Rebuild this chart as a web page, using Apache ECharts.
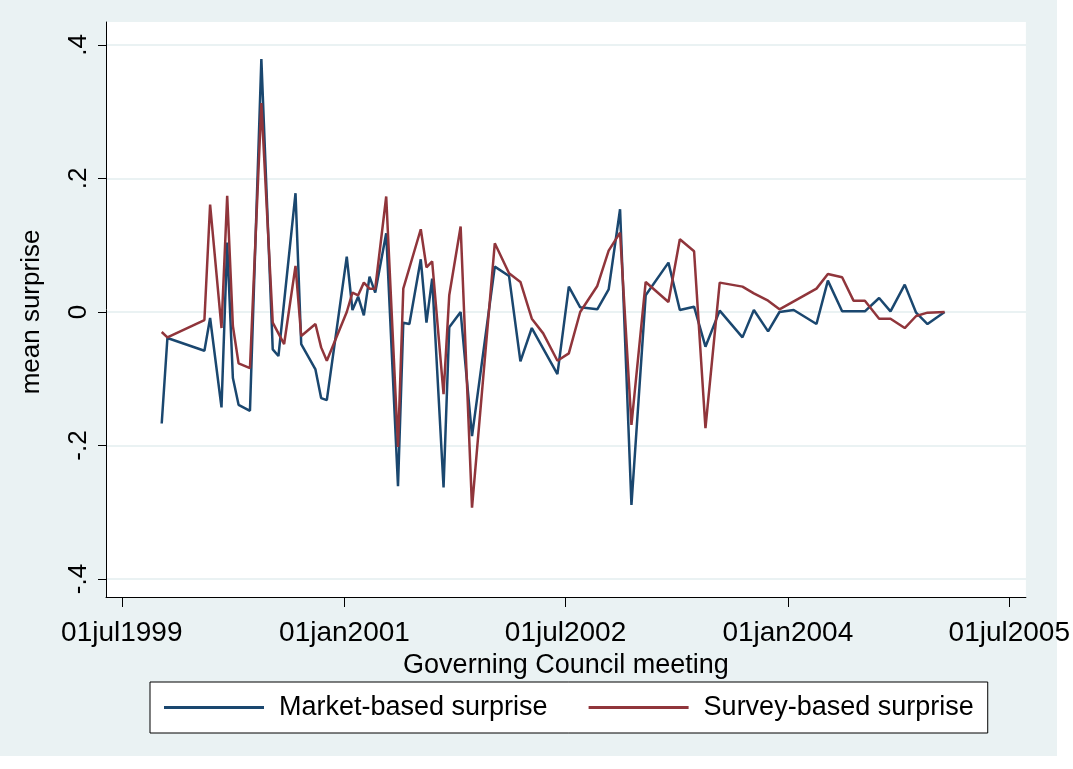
<!DOCTYPE html>
<html>
<head>
<meta charset="utf-8">
<script src="https://cdn.jsdelivr.net/npm/echarts@6/dist/echarts.min.js"></script>
<style>
html, body { margin: 0; padding: 0; background: #fff; }
#main { width: 1073px; height: 769px; }
</style>
</head>
<body>
<div id="main"></div>
<script>
// meeting dates and mean surprises
const marketDates = ['1999-10-07','1999-10-21','2000-01-20','2000-02-03','2000-03-02','2000-03-16','2000-03-30','2000-04-13','2000-05-11','2000-06-08','2000-07-06','2000-07-20','2000-08-31','2000-09-14','2000-10-19','2000-11-02','2000-11-16',
	'2001-01-04','2001-01-18','2001-02-01','2001-02-15','2001-03-01','2001-03-15','2001-04-11','2001-05-10','2001-05-23','2001-06-07','2001-07-05','2001-07-19','2001-08-02','2001-08-30','2001-09-13','2001-10-11','2001-11-08',
	'2002-01-03','2002-02-07','2002-03-07','2002-04-04','2002-06-06','2002-07-04','2002-08-01','2002-09-12','2002-10-10','2002-11-07','2002-12-05',
	'2003-01-09','2003-03-06','2003-04-03','2003-05-08','2003-06-05','2003-07-10','2003-09-04','2003-10-02','2003-11-06','2003-12-04',
	'2004-01-08','2004-03-04','2004-04-01','2004-05-06','2004-07-01','2004-08-05','2004-09-02','2004-10-07','2004-11-04','2004-12-02','2005-01-13'];
const marketValues = [-0.167,-0.039,-0.058,-0.009,-0.143,0.104,-0.099,-0.139,-0.148,0.379,-0.056,-0.066,0.178,-0.048,-0.086,-0.129,-0.132,
	0.083,0.003,0.023,-0.005,0.053,0.029,0.118,-0.261,-0.016,-0.018,0.079,-0.016,0.050,-0.263,-0.023,0.000,-0.186,
	0.068,0.054,-0.074,-0.024,-0.093,0.038,0.007,0.004,0.034,0.154,-0.289,
	0.025,0.074,0.003,0.008,-0.052,0.002,-0.038,0.003,-0.029,0.000,
	0.003,-0.018,0.047,0.001,0.001,0.021,0.001,0.041,-0.001,-0.018,0.000];

const surveyDates = ['1999-10-07','1999-10-21','2000-01-20','2000-02-03','2000-03-02','2000-03-16','2000-03-30','2000-04-13','2000-05-11','2000-06-08','2000-07-06','2000-08-03','2000-08-31','2000-09-14','2000-10-19','2000-11-02','2000-11-16',
	'2001-01-04','2001-01-18','2001-02-01','2001-02-15','2001-03-01','2001-03-15','2001-04-11','2001-05-10','2001-05-23','2001-07-05','2001-07-19','2001-08-02','2001-08-30','2001-09-13','2001-10-11','2001-11-08',
	'2002-01-03','2002-02-07','2002-03-07','2002-04-04','2002-05-02','2002-06-06','2002-07-04','2002-08-01','2002-09-12','2002-10-10','2002-11-07','2002-12-05',
	'2003-01-09','2003-03-06','2003-04-03','2003-05-08','2003-06-05','2003-07-10','2003-09-04','2003-10-02','2003-11-06','2003-12-04',
	'2004-03-04','2004-04-01','2004-05-06','2004-06-03','2004-07-01','2004-08-05','2004-09-02','2004-10-07','2004-11-04','2004-12-02','2005-01-13'];
const surveyValues = [-0.030,-0.038,-0.012,0.161,-0.024,0.174,-0.021,-0.077,-0.084,0.313,-0.016,-0.048,0.069,-0.036,-0.018,-0.053,-0.073,
	0.000,0.029,0.025,0.044,0.035,0.035,0.173,-0.202,0.035,0.124,0.067,0.076,-0.123,0.025,0.128,-0.293,
	0.103,0.058,0.045,-0.010,-0.032,-0.073,-0.062,0.000,0.039,0.092,0.119,-0.169,
	0.045,0.015,0.109,0.091,-0.174,0.044,0.038,0.028,0.017,0.004,
	0.035,0.057,0.052,0.017,0.017,-0.010,-0.010,-0.024,-0.006,-0.001,0.000];

const xTickDates = ['1999-07-01','2001-01-01','2002-07-01','2004-01-01','2005-07-01'];
const xRange = ['1999-05-23', '2005-08-11'];
const yRange = [-0.4, 0.4];

const months = ['jan','feb','mar','apr','may','jun','jul','aug','sep','oct','nov','dec'];
// dates as days since 1970 (UTC), like a stata %td axis
const toDay = s => { const p = s.split('-'); return Date.UTC(+p[0], +p[1] - 1, +p[2]) / 86400000; };
const stataDate = v => {
	const d = new Date(Math.round(v) * 86400000);
	return String(d.getUTCDate()).padStart(2, '0') + months[d.getUTCMonth()] + d.getUTCFullYear();
};
const stataNum = v => {
	if (Math.abs(v) < 1e-9) return '0';
	return (v < 0 ? '-' : '') + String(Math.abs(+v.toFixed(1))).replace(/^0/, '');
};

const font = 'Liberation Sans, Arial, sans-serif';
const navy = '#1a476f';
const maroon = '#90353b';
const bg = '#eaf2f3';

const xTicks = xTickDates.map(toDay);
const xMin = toDay(xRange[0]);
const xMax = toDay(xRange[1]);

const myChart = echarts.init(document.getElementById('main'));
myChart.setOption({
	animation: false,
	backgroundColor: bg,
	textStyle: { fontFamily: font },
	graphic: [
		{ type: 'rect', shape: { x: 1057, y: 0, width: 16, height: 769 }, style: { fill: '#fff' } },
		{ type: 'rect', shape: { x: 0, y: 756, width: 1073, height: 13 }, style: { fill: '#fff' } }
	],
	grid: [
		// plot region (frame + x axis)
		{ left: 106, right: 43, top: 22, bottom: 172, show: true, backgroundColor: '#fff', borderWidth: 0 },
		// data region, -.4 .. .4
		{ left: 106, right: 43, top: 45, bottom: 190 }
	],
	xAxis: [
		{
			type: 'value', gridIndex: 0, min: xMin, max: xMax,
			name: 'Governing Council meeting', nameLocation: 'middle', nameGap: 44,
			nameTextStyle: { fontSize: 27, color: '#000', fontFamily: font },
			axisLine: { show: true, onZero: false, lineStyle: { color: '#000', width: 1 } },
			axisTick: { show: true, length: 10, customValues: xTicks, lineStyle: { color: '#000' } },
			axisLabel: { show: true, customValues: xTicks, formatter: stataDate, fontSize: 28, color: '#000', margin: 22, fontFamily: font },
			splitLine: { show: false }
		},
		{ type: 'value', gridIndex: 1, min: xMin, max: xMax, show: false, splitLine: { show: false } }
	],
	yAxis: [
		{
			type: 'value', gridIndex: 0, min: -1, max: 1,
			axisLine: { show: true, onZero: false, lineStyle: { color: '#000', width: 1 } },
			axisTick: { show: false }, axisLabel: { show: false }, splitLine: { show: false }
		},
		{
			type: 'value', gridIndex: 1, min: yRange[0], max: yRange[1], interval: 0.2,
			name: 'mean surprise', nameLocation: 'middle', nameGap: 61,
			nameTextStyle: { fontSize: 26, color: '#000', fontFamily: font },
			axisLine: { show: false },
			axisTick: { show: true, length: 8, lineStyle: { color: '#000' } },
			axisLabel: { rotate: 90, fontSize: 26, color: '#000', margin: 14, formatter: stataNum, fontFamily: font },
			splitLine: { show: true, lineStyle: { color: bg, width: 2 } }
		}
	],
	legend: {
		left: 150, top: 682,
		padding: [12, 14],
		itemGap: 41,
		itemWidth: 100, itemHeight: 3,
		icon: 'rect',
		backgroundColor: '#fff',
		borderColor: '#000', borderWidth: 1, borderRadius: 0,
		selectedMode: false,
		textStyle: { fontSize: 27, color: '#000', fontFamily: font, padding: [0, 0, 0, 10] },
		data: ['Market-based surprise', 'Survey-based surprise']
	},
	series: [
		{
			name: 'Market-based surprise', type: 'line', xAxisIndex: 1, yAxisIndex: 1,
			symbol: 'none', color: navy, lineStyle: { color: navy, width: 2.5 },
			data: marketDates.map((d, i) => [toDay(d), marketValues[i]])
		},
		{
			name: 'Survey-based surprise', type: 'line', xAxisIndex: 1, yAxisIndex: 1,
			symbol: 'none', color: maroon, lineStyle: { color: maroon, width: 2.5 },
			data: surveyDates.map((d, i) => [toDay(d), surveyValues[i]])
		}
	]
});
</script>
</body>
</html>
